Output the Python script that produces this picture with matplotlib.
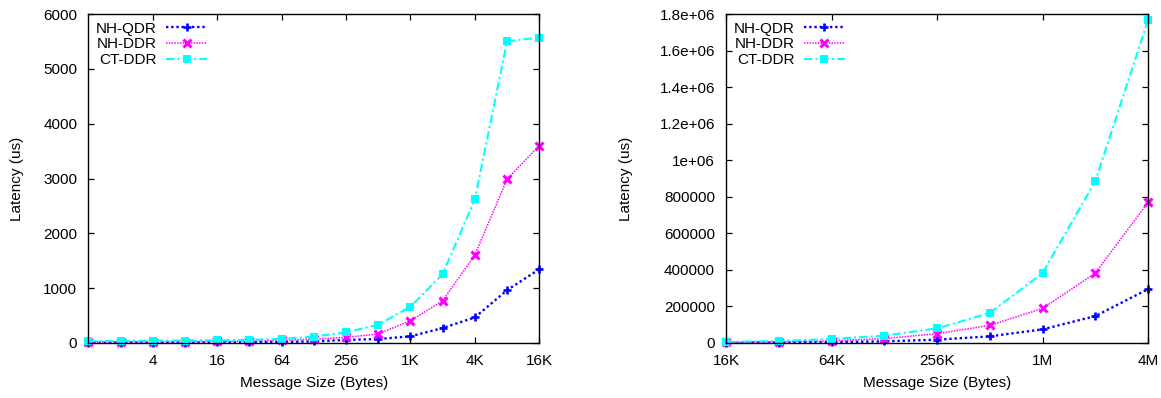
import matplotlib
matplotlib.use("Agg")
import matplotlib.pyplot as plt

plt.rcParams['font.family'] = ['Liberation Sans', 'DejaVu Sans']
plt.rcParams['font.size'] = 11

# ---- data ----
series_names = ["NH-QDR", "NH-DDR", "CT-DDR"]

small_sizes = [1, 2, 4, 8, 16, 32, 64, 128, 256, 512, 1024, 2048, 4096, 8192, 16384]
small_nh_qdr = [5, 6, 7, 8, 10, 13, 18, 30, 55, 73, 121, 273, 467, 964, 1345]
small_nh_ddr = [20, 22, 24, 26, 30, 36, 48, 72, 103, 164, 406, 770, 1606, 2988, 3600]
small_ct_ddr = [35, 38, 42, 45, 50, 58, 75, 115, 194, 333, 660, 1255, 2618, 5503, 5570]

large_sizes = [16384, 32768, 65536, 131072, 262144, 524288, 1048576, 2097152, 4194304]
large_nh_qdr = [1340, 2500, 4600, 9000, 18000, 36400, 74500, 147000, 294500]
large_nh_ddr = [3600, 6500, 12000, 24000, 51000, 96400, 189000, 382000, 769000]
large_ct_ddr = [5570, 11000, 22000, 40000, 80000, 164000, 382000, 884000, 1765000]

small_ticks = [4, 16, 64, 256, 1024, 4096, 16384]
small_tick_labels = ["4", "16", "64", "256", "1K", "4K", "16K"]
large_ticks = [16384, 65536, 262144, 1048576, 4194304]
large_tick_labels = ["16K", "64K", "256K", "1M", "4M"]

small_yticks = [0, 1000, 2000, 3000, 4000, 5000, 6000]
small_ytick_labels = ["0", "1000", "2000", "3000", "4000", "5000", "6000"]
large_yticks = [0, 200000, 400000, 600000, 800000, 1000000, 1200000, 1400000, 1600000, 1800000]
large_ytick_labels = ["0", "200000", "400000", "600000", "800000", "1e+06",
                      "1.2e+06", "1.4e+06", "1.6e+06", "1.8e+06"]

styles = [
    dict(color="#0000ff", linestyle=(0, (1, 1.2)), linewidth=1.7, marker="+",
         markersize=5.5, markeredgewidth=1.9),
    dict(color="#ff00ff", linestyle=(0, (1, 0.8)), linewidth=1.1, marker="x",
         markersize=5.5, markeredgewidth=2.2),
    dict(color="#00ffff", linestyle=(0, (4, 1.5, 1, 1.5)), linewidth=1.5, marker="s",
         markersize=6.2, markeredgewidth=0),
]

W, H = 1161, 398
fig = plt.figure(figsize=(W / 100, H / 100), dpi=100)
ax1 = fig.add_axes([88.3 / W, 1 - 343 / H, 451 / W, 329 / H])
ax2 = fig.add_axes([726 / W, 1 - 343 / H, 422 / W, 329 / H])


def setup(ax, x, ys, xlim, xt, xtl, ylim, yt, ytl, ylab_x):
    for name, y, st in zip(series_names, ys, styles):
        ax.plot(x, y, label=name, clip_on=False, **st)
    ax.set_xscale("log", base=2)
    ax.set_xlim(*xlim)
    ax.set_ylim(*ylim)
    ax.set_xticks(xt)
    ax.set_xticklabels(xtl)
    ax.minorticks_off()
    ax.set_yticks(yt)
    ax.set_yticklabels(ytl)
    ax.tick_params(direction="in", top=True, right=True, length=4, width=0.9,
                   pad=8, labelsize=11)
    for sp in ax.spines.values():
        sp.set_linewidth(1.0)
    ax.set_xlabel("Message Size (Bytes)", fontsize=11)
    ax.set_ylabel("Latency (us)", fontsize=11)
    ax.xaxis.label.set_va("center")
    ax.yaxis.label.set_va("center")
    ax.xaxis.set_label_coords(0.5, -0.1216)
    ax.yaxis.set_label_coords(ylab_x, 0.5)
    ax.legend(loc="upper left", markerfirst=False, frameon=False,
              handlelength=2.7, handletextpad=0.6, labelspacing=0.12,
              borderaxespad=0.35, borderpad=0.15, numpoints=1, fontsize=11)


setup(ax1, small_sizes, [small_nh_qdr, small_nh_ddr, small_ct_ddr],
      (1, 16384), small_ticks, small_tick_labels, (0, 6000),
      small_yticks, small_ytick_labels, -0.159)
setup(ax2, large_sizes, [large_nh_qdr, large_nh_ddr, large_ct_ddr],
      (16384, 4194304), large_ticks, large_tick_labels, (0, 1800000),
      large_yticks, large_ytick_labels, -0.236)

fig.savefig("out.png", dpi=100)
